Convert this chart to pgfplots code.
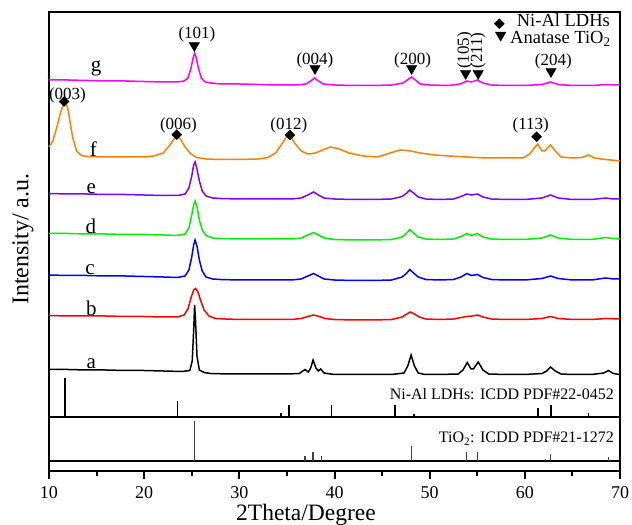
\documentclass[border=0pt]{standalone}
\usepackage{pgfplots}
\pgfplotsset{compat=1.18}
\usepackage{fontspec}
\setmainfont{Liberation Serif}
\definecolor{cg}{RGB}{255,0,255}
\definecolor{cf}{RGB}{255,128,0}
\definecolor{ce}{RGB}{128,0,255}
\definecolor{cd}{RGB}{0,240,0}
\definecolor{cc}{RGB}{0,0,255}
\definecolor{cb}{RGB}{255,0,0}
\begin{document}
\begin{tikzpicture}
\path[use as bounding box] (-49bp,-54bp) rectangle (583bp,471bp);
\begin{axis}[
 scale only axis, width=571bp, height=459bp,
 xmin=10, xmax=70, ymin=0, ymax=459,
 xtick={10,20,...,70}, minor xtick={15,25,...,65},
 ytick=\empty,
 xtick pos=lower,
 tick align=outside,
 major tick length=8bp, minor tick length=5bp,
 tick style={line width=2bp, black},
 axis line style={line width=2.4bp},
 clip=false,
 /pgf/number format/assume math mode=true,
 tick label style={font=\fontsize{18bp}{20bp}\selectfont},
 xticklabel style={inner sep=1bp, yshift=-6bp},
 xlabel={2Theta/Degree}, ylabel={Intensity/ a.u.},
 label style={font=\fontsize{24bp}{28bp}\selectfont},
 xlabel style={font=\fontsize{23.5bp}{26bp}\selectfont, at={(axis description cs:0.45,-0.1077)}, anchor=base, inner sep=0pt},
 ylabel style={at={(axis description cs:-0.0455,0.505)}, anchor=center},
]
% g
\addplot[cg, line width=1.5bp] coordinates {(10,391) (12,391) (14,390.5) (16,390) (18,390) (20,389.5) (22,389) (23.5,389) (24.2,390) (24.6,393) (24.9,402) (25.15,413) (25.3,418) (25.45,414) (25.7,403) (26,393) (26.4,389) (27,388) (28,387) (30,387) (32,386.5) (34,386) (36,386) (37,387) (37.5,390) (37.9,393) (38.3,390) (38.8,387) (40,386) (42,385.5) (44,385.5) (46,386) (47.2,388) (47.8,392) (48.1,394) (48.5,391) (49,387) (50,386) (52,385.5) (53.2,387) (53.9,390) (54.4,389) (55,391) (55.6,388) (56.5,386) (58,385.5) (60,385.5) (61.8,386.5) (62.7,389) (63.5,386.5) (65,385.5) (67,385.5) (68.7,386.5) (69.5,386) (70,386)};
% f
\addplot[cf, line width=1.5bp] coordinates {(10,324) (10.4,330) (10.8,343) (11.2,358) (11.5,366) (11.7,368) (11.95,364) (12.2,350) (12.5,333) (12.9,320) (13.4,315.5) (14,314.5) (16,314) (18,314) (20,314) (21,315) (22,318) (22.7,326) (23.2,333) (23.5,335) (23.8,332) (24.3,324) (24.9,317) (25.5,313.5) (26.5,312) (28,311.5) (30,311.5) (32,312) (33,313.5) (33.8,318) (34.4,326) (35,335) (35.3,336) (35.8,328) (36.5,320) (37.2,317) (38,318) (39,322) (39.6,324) (40.5,322) (41.5,318) (43,315) (44.5,314) (45.5,317) (46.5,320) (47,321) (48,320) (49,318) (50.5,316) (52,315) (54,314) (56,313) (58,313) (59.8,313) (60.5,317) (61,323) (61.35,327) (61.8,320) (62.1,320) (62.7,326) (63.2,320) (63.8,314) (65,313) (66,313.5) (66.7,316) (67.3,313) (68.5,311.5) (70,310)};
% e
\addplot[ce, line width=1.5bp] coordinates {(10,277.5) (12,277) (14,277) (16,276.5) (18,276.5) (20,276) (22,275.5) (23.5,275.5) (24.3,277) (24.7,283) (25,295) (25.2,306) (25.35,309) (25.55,302) (25.8,290) (26.1,280) (26.5,275) (27.2,273) (28,272.5) (30,272) (32,272) (34,272) (35.5,272) (36.5,273) (37.2,276) (37.8,279) (38.3,276) (38.9,273) (40,272) (42,271.5) (44,271.5) (46,272) (47.1,274.5) (47.6,278) (47.9,281) (48.3,278) (48.8,274) (49.6,272) (51,271.5) (52.5,272) (53.3,274.5) (53.9,277) (54.4,276) (55,277) (55.6,274) (56.5,272) (58,271.5) (60,271.5) (61.8,273) (62.7,276) (63.5,273) (65,271.5) (67,271.5) (68.5,273) (69.3,272) (70,272)};
% d
\addplot[cd, line width=1.5bp] coordinates {(10,237.5) (12,237.5) (14,237) (16,237) (18,236.5) (20,236.5) (22,236) (23.5,235.5) (24.3,237) (24.7,243) (25,256) (25.2,266) (25.35,270) (25.55,264) (25.8,251) (26.1,241) (26.5,235.5) (27.2,233) (28,232.5) (30,232) (32,232) (34,232) (35.5,232) (36.5,233) (37.2,236) (37.8,238.5) (38.3,236) (38.9,233) (40,231.5) (42,231) (44,231) (46,231.5) (47.1,234) (47.6,238) (47.9,241.5) (48.3,238) (48.8,234) (49.6,232) (51,231.5) (52.5,232) (53.3,234.5) (53.9,237.5) (54.4,235.5) (55,237.5) (55.6,234) (56.5,232) (58,231.5) (60,231.5) (61.8,233) (62.7,236) (63.5,233) (65,231.5) (67,231.5) (68.5,233.5) (69.3,232.5) (70,232)};
% c
\addplot[cc, line width=1.5bp] coordinates {(10,196) (12,195.5) (14,195.5) (16,195) (18,195) (20,194.5) (22,194) (23.5,193.5) (24.3,195) (24.7,201) (25,214) (25.2,226) (25.35,231) (25.55,225) (25.8,211) (26.1,200) (26.5,194) (27.2,192) (28,191.5) (30,191) (32,191) (34,191) (35.5,191) (36.5,192) (37.2,195) (37.8,197.5) (38.3,195) (38.9,192) (40,191) (42,190.5) (44,190.5) (46,191) (47.1,194) (47.6,198) (47.9,201.5) (48.3,198) (48.8,194) (49.6,191.5) (51,191) (52.5,191.5) (53.3,194) (53.9,197.5) (54.4,195.5) (55,196.5) (55.6,193.5) (56.5,191.5) (58,191) (60,191) (61.8,192.5) (62.7,195) (63.5,192.5) (65,191) (67,191) (68.5,193) (69.3,192) (70,192)};
% b
\addplot[cb, line width=1.5bp] coordinates {(10,155.5) (12,155) (14,155) (16,155) (18,154.5) (20,154.5) (22,154) (23.5,154) (24.2,156) (24.6,162) (24.95,174) (25.2,181) (25.4,182.5) (25.65,179) (25.95,170) (26.3,161) (26.8,155) (27.5,152.5) (28.5,152) (30,151.5) (32,151.5) (34,151.5) (35.5,151.5) (36.5,152.5) (37.2,154.5) (37.8,156) (38.4,154.5) (39,152.5) (40,151.5) (42,151) (44,151) (46,151.5) (47.1,154) (47.6,157) (47.95,159) (48.4,157) (48.9,154) (49.6,152) (51,151.5) (52.5,152) (53.3,153.5) (53.9,154.5) (54.5,155) (55,156) (55.6,154) (56.5,152) (58,151.5) (60,151.5) (61.8,152.5) (62.7,154.5) (63.5,152.5) (65,151.5) (67,151.5) (68.5,152.5) (70,152)};
% a
\addplot[black, line width=1.5bp] coordinates {(10,101.5) (12,101.5) (14,101) (16,101) (18,100.5) (20,100.5) (22,100) (24,99.5) (24.8,100.5) (25.05,110) (25.2,140) (25.3,166) (25.4,150) (25.55,115) (25.8,101) (26.3,98.5) (27,97.5) (29,97) (31,97) (33,97) (35,97) (36.3,97.5) (36.9,101.5) (37.25,99) (37.5,103) (37.75,111) (38.05,103) (38.3,100) (38.55,102) (38.9,98) (40,96.5) (42,96.5) (44,96.5) (46,96.5) (47.3,98) (47.7,105) (48.05,116) (48.4,105) (48.8,98) (49.5,96.5) (51,96.5) (53,97) (53.5,101) (53.95,108.5) (54.35,102) (54.6,102) (55.1,109) (55.6,101) (56.2,97) (58,96.5) (60,96.5) (61.8,97.5) (62.3,100) (62.7,104) (63.2,100) (63.8,97) (65,96.5) (67,96.5) (68.3,98) (68.77,100.5) (69.3,97.5) (70,96.5)};
% separators
\addplot[black, line width=2bp] coordinates {(10,54) (70,54)};
\addplot[black, line width=2bp] coordinates {(10,10) (70,10)};
% LDH reference sticks
\addplot[black, line width=1.6bp, quiver={u=0,v=\thisrow{h}}] table[x=x,y=y] {
x y h
11.7 54 39
23.5 54 16
34.4 54 4
35.2 54 12
39.7 54 12
46.35 54 12
48.35 54 3
61.4 54 9
62.75 54 12
66.7 54 4
};
% TiO2 reference sticks
\addplot[black!75, line width=1.2bp, quiver={u=0,v=\thisrow{h}}] table[x=x,y=y] {
x y h
25.3 10 40
36.9 10 5
37.75 10 9
38.6 10 5
48.05 10 15
53.9 10 9
55.05 10 9
62.15 10 2
62.7 10 7
68.75 10 4
};
% markers
\addplot[only marks, mark=square*, mark size=3.5bp, mark options={rotate=45, black, fill=black}] coordinates {(11.58,369.5) (23.42,336.3) (35.32,336) (61.24,334.3) (57.32,447.2)};
\addplot[only marks, mark=triangle*, mark size=6bp, mark options={rotate=180, black, fill=black}] coordinates {(25.27,425.5) (37.95,402.5) (48.1,402.5) (53.78,397.5) (55.1,397.5) (62.75,399.5) (57.46,435.8)};
% legend text
\node[font=\fontsize{18.5bp}{20bp}\selectfont, anchor=base west, inner sep=0pt] at (axis cs:59.14,444.3) {Ni-Al LDHs};
\node[font=\fontsize{18.5bp}{20bp}\selectfont, anchor=base west, inner sep=0pt] at (axis cs:58.44,427.4) {Anatase TiO\textsubscript{2}};
% reference texts
\node[font=\fontsize{16bp}{18bp}\selectfont, anchor=base east, inner sep=0pt] at (axis cs:69.37,71) {Ni-Al LDHs: ICDD PDF\#22-0452};
\node[font=\fontsize{16bp}{18bp}\selectfont, anchor=base east, inner sep=0pt] at (axis cs:69.37,28.3) {TiO\textsubscript{2}: ICDD PDF\#21-1272};
% Miller indices
\begin{scope}[every node/.style={font=\fontsize{17bp}{19bp}\selectfont, inner sep=0pt}]
\node at (axis cs:25.55,436.5) {(101)};
\node at (axis cs:37.95,411) {(004)};
\node at (axis cs:48.2,411) {(200)};
\node[rotate=90] at (axis cs:53.7,420.5) {(105)};
\node[rotate=90] at (axis cs:55.08,420.5) {(211)};
\node at (axis cs:63.0,409.3) {(204)};
\node at (axis cs:11.94,376) {(003)};
\node at (axis cs:23.6,346) {(006)};
\node at (axis cs:35.2,346) {(012)};
\node at (axis cs:60.62,346) {(113)};
\end{scope}
% sample letters
\begin{scope}[every node/.style={font=\fontsize{21bp}{24bp}\selectfont, anchor=base}]
\node at (axis cs:14.96,399.5) {g};
\node at (axis cs:14.65,314.3) {f};
\node at (axis cs:14.45,277.7) {e};
\node at (axis cs:14.4,237) {d};
\node at (axis cs:14.3,196) {c};
\node at (axis cs:14.45,155) {b};
\node at (axis cs:14.45,102.7) {a};
\end{scope}
\end{axis}
\end{tikzpicture}
\end{document}
